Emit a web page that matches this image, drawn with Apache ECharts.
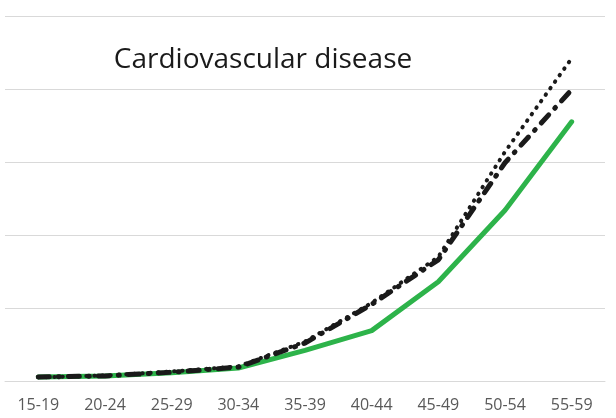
<!DOCTYPE html>
<html><head><meta charset="utf-8">
<script src="https://cdn.jsdelivr.net/npm/echarts@6/dist/echarts.min.js"></script>
<style>html,body{margin:0;padding:0;background:#fff}#c{width:616px;height:418px}</style>
</head><body><div id="c"></div>
<script>
const categories = ['15-19','20-24','25-29','30-34','35-39','40-44','45-49','50-54','55-59'];
const greenSolid = [5.5, 6.8, 11.4, 17.8, 42, 69, 136, 234, 355];
const blackDashDot = [5.5, 7, 12, 19, 52, 105, 166, 299, 399];
const blackDotted = [5, 7.5, 13, 20, 54, 107, 170, 314, 442];
const yTicks = [0, 100, 200, 300, 400, 500];

const chart = echarts.init(document.getElementById('c'));
chart.setOption({
  animation: false,
  title: {
    text: 'Cardiovascular disease',
    left: 258, top: 41, textAlign: 'center',
    textStyle: {fontFamily: 'Open Sans', fontSize: 28, fontWeight: 'normal', color: '#1a1a1a'}
  },
  grid: {left: 5, right: 11, top: 16, bottom: 37},
  xAxis: {
    type: 'category', data: categories, boundaryGap: true,
    axisLine: {show: true, lineStyle: {color: '#d9d9d9', width: 1}},
    axisTick: {show: false},
    axisLabel: {color: '#595959', fontFamily: 'Open Sans', fontSize: 16, margin: 16}
  },
  yAxis: {
    type: 'value', min: yTicks[0], max: yTicks[yTicks.length-1], interval: 100,
    axisLabel: {show: false}, axisLine: {show: false}, axisTick: {show: false},
    splitLine: {lineStyle: {color: '#d9d9d9', width: 1}}
  },
  series: [
    {type: 'line', data: greenSolid, symbol: 'none',
     lineStyle: {color: '#2db34a', width: 5, cap: 'round', join: 'round'}},
    {type: 'line', data: blackDashDot, symbol: 'none',
     lineStyle: {color: '#1a1a1a', width: 5, type: [11, 9, 1, 9], cap: 'round', join: 'round'}},
    {type: 'line', data: blackDotted, symbol: 'none',
     lineStyle: {color: '#1a1a1a', width: 4, type: [0.5, 7.5], cap: 'round'}}
  ]
});
</script></body></html>
